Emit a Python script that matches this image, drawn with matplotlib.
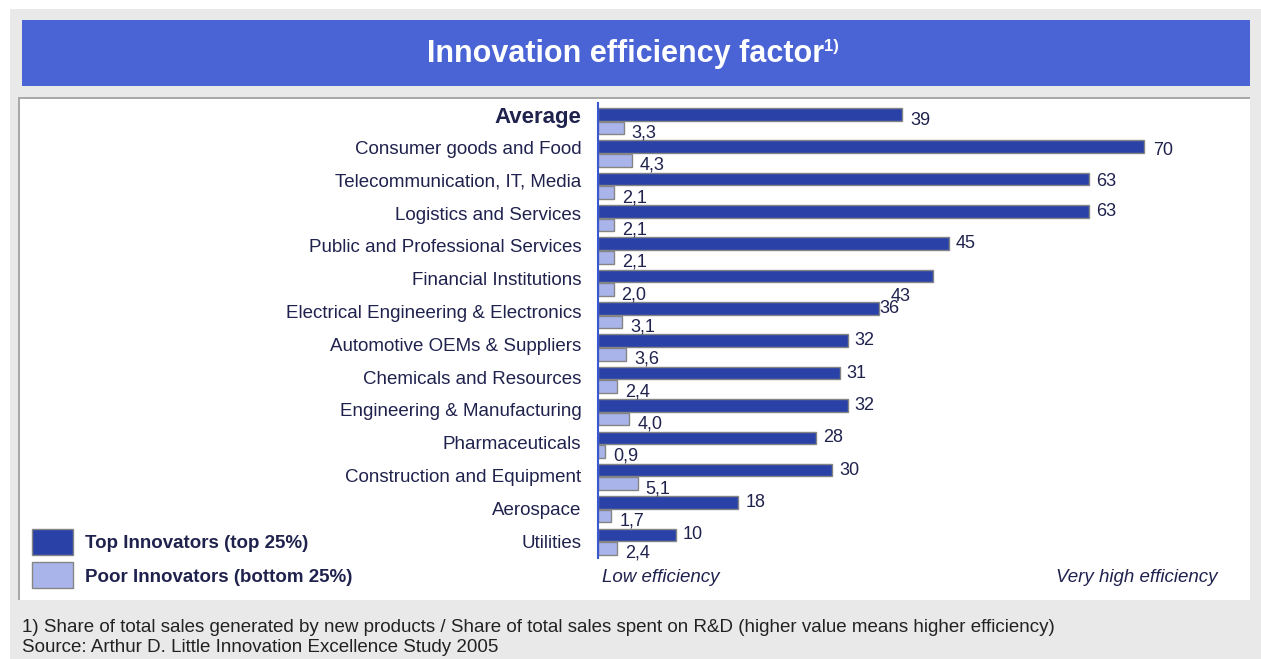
import matplotlib
matplotlib.use("Agg")
import numpy as np
from matplotlib import pyplot as plt
from matplotlib.patches import Rectangle

plt.rcParams['font.family'] = ['Liberation Sans', 'DejaVu Sans']

# Data
categories = ['Average', 'Consumer goods and Food', 'Telecommunication, IT, Media',
              'Logistics and Services', 'Public and Professional Services',
              'Financial Institutions', 'Electrical Engineering & Electronics',
              'Automotive OEMs & Suppliers', 'Chemicals and Resources',
              'Engineering & Manufacturing', 'Pharmaceuticals',
              'Construction and Equipment', 'Aerospace', 'Utilities']
top_innovators = [39, 70, 63, 63, 45, 43, 36, 32, 31, 32, 28, 30, 18, 10]
poor_innovators = [3.3, 4.3, 2.1, 2.1, 2.1, 2.0, 3.1, 3.6, 2.4, 4.0, 0.9, 5.1, 1.7, 2.4]
legend_labels = ['Top Innovators (top 25%)', 'Poor Innovators (bottom 25%)']

title = 'Innovation efficiency factor'
footnotes = ['1) Share of total sales generated by new products / Share of total sales spent on R&D (higher value means higher efficiency)',
             'Source: Arthur D. Little Innovation Excellence Study 2005']

W, H = 1261, 659
DARK = '#2a42a8'
LIGHT = '#a9b5ea'
EDGE = '#858585'
TXT = '#20224e'


# Convert pixel position to figure fraction
def fx(x):
    return x / W


def fy(y):
    return 1 - y / H


def fig_rect(fig, x0, y0, x1, y1, **kw):
    fig.patches.append(Rectangle((fx(x0), fy(y1)), fx(x1) - fx(x0), fy(y0) - fy(y1),
                                 transform=fig.transFigure, figure=fig, **kw))


fig = plt.figure(figsize=(W / 100, H / 100), dpi=100)
fig.patch.set_facecolor('white')

# Background frame, title banner and white panel
fig_rect(fig, 10, 9, W, H, facecolor='#e9e9e9', edgecolor='none', zorder=0)
fig_rect(fig, 22, 20, 1250, 86, facecolor='#4a64d6', edgecolor='none', zorder=1)
fig_rect(fig, 18, 97, 1250, 600, facecolor='white', edgecolor='none', zorder=1)
fig_rect(fig, 18, 97, 1250, 99, facecolor='#a9a9a9', edgecolor='none', zorder=2)
fig_rect(fig, 18, 97, 20, 600, facecolor='#a9a9a9', edgecolor='none', zorder=2)

fig.text(fx(626), fy(54), title, color='white', fontsize=22, fontweight='bold',
         ha='center', va='center')
fig.text(fx(824), fy(47), '1)', color='white', fontsize=12, fontweight='bold',
         ha='left', va='center')

# Axes for the bars
ax = fig.add_axes([fx(598), fy(558), fx(1250) - fx(598), fy(103) - fy(558)])
ax.set_zorder(5)
ax.set_facecolor('none')
px_per_unit = 7.8
row_px = 32.35
ax.set_xlim(0, 652 / px_per_unit)
ax.set_ylim(13.51, -0.556)

y = np.arange(len(categories))
h = 0.39
ax.barh(y - 0.205, top_innovators, height=h, color=DARK, edgecolor=EDGE, linewidth=1)
ax.barh(y + 0.215, poor_innovators, height=h, color=LIGHT, edgecolor=EDGE, linewidth=1)

# Value labels (a few are nudged like in the original)
dark_nudge = {0: (8, -6), 1: (9, -4), 2: (7, -2), 5: (-43, -20), 6: (1, 0)}
for i, v in enumerate(top_innovators):
    dx, dy = dark_nudge.get(i, (7, 0))
    ax.annotate(str(v), (v, i - 0.205), xytext=(dx, dy), textcoords='offset pixels',
                ha='left', va='center', fontsize=13, color=TXT)
for i, v in enumerate(poor_innovators):
    ax.annotate(f'{v:.1f}'.replace('.', ','), (v, i + 0.215), xytext=(8, -5),
                textcoords='offset pixels', ha='left', va='center', fontsize=13, color=TXT)

# Category labels: in the original they drift slightly lower than the bars
label_shift = [-0.2 - 0.0]+ [-0.18 + 0.0139 * (i - 1) for i in range(1, len(categories))]
ax.set_yticks(y + np.array(label_shift))
ax.set_yticklabels(categories, fontsize=13.5, color=TXT)
ax.tick_params(axis='y', length=0, pad=12)
ax.get_yticklabels()[0].set_fontweight('bold')
ax.get_yticklabels()[0].set_fontsize(16)
ax.set_xticks([])

for s in ['top', 'right', 'bottom']:
    ax.spines[s].set_visible(False)
ax.spines['left'].set_color('#3a58d0')
ax.spines['left'].set_linewidth(1.5)

# Axis direction captions
fig.text(fx(602), fy(577), 'Low efficiency', fontsize=13.5, style='italic', color=TXT,
         ha='left', va='center')
fig.text(fx(1217), fy(577), 'Very high efficiency', fontsize=13.5, style='italic', color=TXT,
         ha='right', va='center')

# Legend
for (yt, yb), col, lab in zip([(529, 555), (562, 588)], [DARK, LIGHT], legend_labels):
    fig_rect(fig, 32, yt, 73, yb, facecolor=col, edgecolor=EDGE, linewidth=1, zorder=3)
    fig.text(fx(85), fy((yt + yb) / 2 + 2), lab, fontsize=13.5, fontweight='bold', color=TXT,
             ha='left', va='center')

# Footnotes
fig.text(fx(22), fy(628), footnotes[0], fontsize=13.5, color='#222222', ha='left', va='center')
fig.text(fx(22), fy(647), footnotes[1], fontsize=13.5, color='#222222', ha='left', va='center')

fig.savefig('out.png', dpi=100)
